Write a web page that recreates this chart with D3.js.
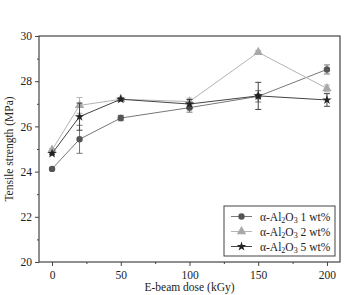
<!DOCTYPE html>
<html>
<head>
<meta charset="utf-8">
<style>
  body {margin: 0; background: #fff; font-family: "Liberation Serif", serif;}
</style>
<script src="https://d3js.org/d3.v7.min.js"></script>
</head>
<body>
<div id="chart"></div>
<script>

  const doses = [0, 20, 50, 100, 150, 200]

  const al1 = [24.12, 25.43, 26.37, 26.83, 27.33, 28.52]
  const al1Err = [0.05, 0.62, 0.12, 0.2, 0.25, 0.2]

  const al2 = [24.96, 26.93, 27.2, 27.1, 29.28, 27.68]
  const al2Err = [0.05, 0.35, 0.08, 0.15, 0.08, 0.15]

  const al5 = [24.8, 26.43, 27.2, 26.99, 27.35, 27.17]
  const al5Err = [0.05, 0.6, 0.05, 0.2, 0.6, 0.28]

  const seriesNames = ["1 wt%", "2 wt%", "5 wt%"]
  const yTicks = [20, 22, 24, 26, 28, 30]
  const xTicks = [0, 50, 100, 150, 200]

  const width = 347
  const height = 295
  const margin = {top: 36, right: 7, bottom: 33, left: 39}

  const svg = d3.select('#chart').append('svg')
    .attr('width', width)
    .attr('height', height)

  const x = d3.scaleLinear().domain([-9.5, 209.5]).range([margin.left, width - margin.right])
  const y = d3.scaleLinear().domain([20, 30]).range([height - margin.bottom, margin.top])

  // frame
  svg.append('rect')
    .attr('x', x.range()[0])
    .attr('y', y.range()[1])
    .attr('width', x.range()[1] - x.range()[0])
    .attr('height', y.range()[0] - y.range()[1])
    .style('fill', 'none')
    .style('stroke', '#444')
    .style('stroke-width', 1.2)

  // axes
  const xAxis = svg.append('g')
    .attr('transform', 'translate(0,' + y.range()[0] + ')')
    .call(d3.axisBottom(x).tickValues(xTicks).tickSize(4).tickPadding(5))
  const xMinor = svg.append('g')
    .attr('transform', 'translate(0,' + y.range()[0] + ')')
    .call(d3.axisBottom(x).tickValues([25, 75, 125, 175]).tickSize(2).tickFormat(''))

  const yAxis = svg.append('g')
    .attr('transform', 'translate(' + x.range()[0] + ',0)')
    .call(d3.axisLeft(y).tickValues(yTicks).tickSize(4).tickPadding(3))
  const yMinor = svg.append('g')
    .attr('transform', 'translate(' + x.range()[0] + ',0)')
    .call(d3.axisLeft(y).tickValues([21, 23, 25, 27, 29]).tickSize(2).tickFormat(''))

  ;[xAxis, xMinor, yAxis, yMinor].forEach(g => {
    g.select('.domain').remove()
    g.selectAll('line').style('stroke', '#444')
    g.selectAll('text')
      .style('font-family', '"Liberation Serif", serif')
      .style('font-size', '11.5px')
      .style('fill', '#222')
  })

  svg.append('text')
    .attr('transform', 'translate(13,' + (y(25)) + ') rotate(-90)')
    .attr('text-anchor', 'middle')
    .style('font-size', '11.5px')
    .style('fill', '#222')
    .text('Tensile strength (MPa)')

  svg.append('text')
    .attr('x', x(100))
    .attr('y', 291)
    .attr('text-anchor', 'middle')
    .style('font-size', '11.5px')
    .style('fill', '#222')
    .text('E-beam dose (kGy)')

  const series = [
    {values: al1, err: al1Err, line: '#777', fill: '#555', shape: d3.symbolCircle, size: 32},
    {values: al2, err: al2Err, line: '#b4b4b4', fill: '#a8a8a8', shape: d3.symbolTriangle, size: 38},
    {values: al5, err: al5Err, line: '#444', fill: '#222', shape: d3.symbolStar, size: 28}
  ]

  const line = d3.line()
    .x(d => x(d[0]))
    .y(d => y(d[1]))

  series.forEach(s => {
    const pts = doses.map((d, i) => [d, s.values[i], s.err[i]])

    svg.append('path')
      .datum(pts)
      .attr('d', line)
      .style('fill', 'none')
      .style('stroke', s.line)
      .style('stroke-width', 1)

    const eb = svg.append('g').selectAll('g')
      .data(pts)
      .enter().append('g')
      .style('stroke', s.line)
      .style('stroke-width', 1)

    eb.append('line')
      .attr('x1', d => x(d[0])).attr('x2', d => x(d[0]))
      .attr('y1', d => y(d[1] - d[2])).attr('y2', d => y(d[1] + d[2]))
    eb.append('line')
      .attr('x1', d => x(d[0]) - 3).attr('x2', d => x(d[0]) + 3)
      .attr('y1', d => y(d[1] - d[2])).attr('y2', d => y(d[1] - d[2]))
    eb.append('line')
      .attr('x1', d => x(d[0]) - 3).attr('x2', d => x(d[0]) + 3)
      .attr('y1', d => y(d[1] + d[2])).attr('y2', d => y(d[1] + d[2]))

    svg.append('g').selectAll('path')
      .data(pts)
      .enter().append('path')
      .attr('d', d3.symbol().type(s.shape).size(s.size))
      .attr('transform', d => 'translate(' + x(d[0]) + ',' + y(d[1]) + ')')
      .style('fill', s.fill)
  })

  // legend
  const legend = svg.append('g')
  legend.append('rect')
    .attr('x', 224).attr('y', 206)
    .attr('width', 111).attr('height', 50)
    .style('fill', '#fff')
    .style('stroke', '#444')
    .style('stroke-width', 1)

  series.forEach((s, i) => {
    const ly = 216.5 + i * 15
    legend.append('line')
      .attr('x1', 231).attr('x2', 252)
      .attr('y1', ly).attr('y2', ly)
      .style('stroke', s.line)
    legend.append('path')
      .attr('d', d3.symbol().type(s.shape).size(s.size))
      .attr('transform', 'translate(241.5,' + ly + ')')
      .style('fill', s.fill)
    const t = legend.append('text')
      .attr('x', 260)
      .attr('y', ly + 4)
      .style('font-size', '11.5px')
      .style('fill', '#222')
    t.append('tspan').text('\u03b1-Al')
    t.append('tspan').attr('dy', 2.5).style('font-size', '8px').text('2')
    t.append('tspan').attr('dy', -2.5).text('O')
    t.append('tspan').attr('dy', 2.5).style('font-size', '8px').text('3')
    t.append('tspan').attr('dy', -2.5).text(' ' + seriesNames[i])
  })

</script>
</body>
</html>
